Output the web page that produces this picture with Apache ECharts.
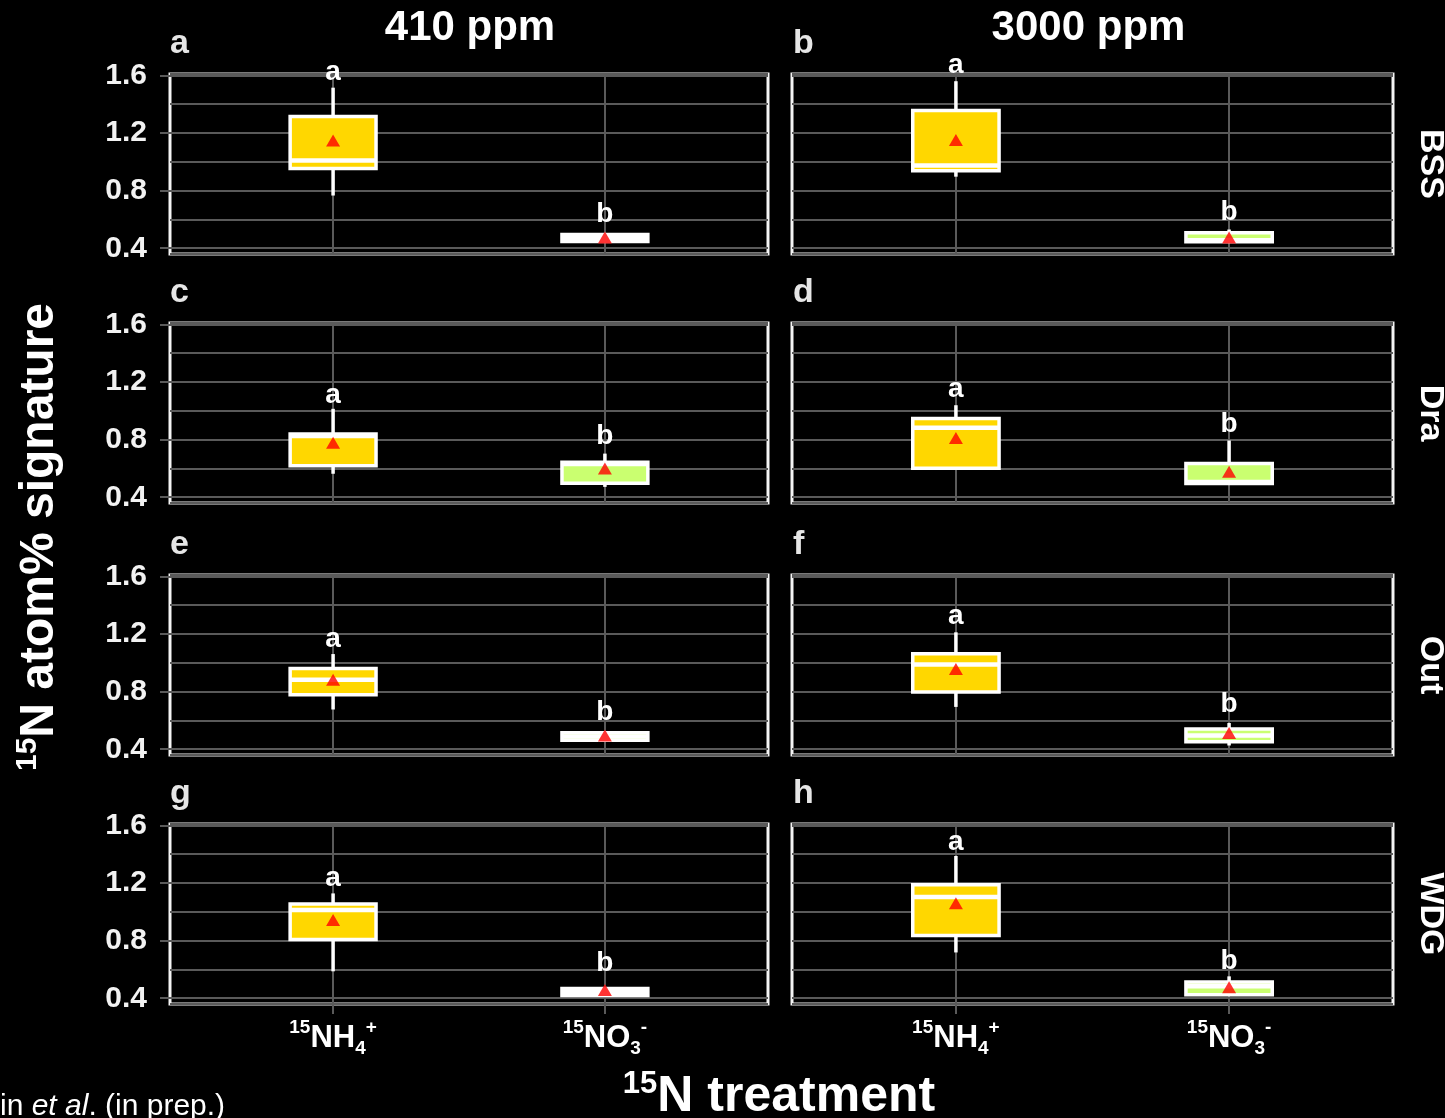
<!DOCTYPE html>
<html><head><meta charset="utf-8">
<script src="https://cdn.jsdelivr.net/npm/echarts@6/dist/echarts.min.js"></script>
<style>html,body{margin:0;padding:0;background:#000;} #c{width:1445px;height:1118px;}</style>
</head><body><div id="c"></div>
<script>
// ---------------- data ----------------
const sites = ['BSS', 'Dra', 'Out', 'WDG'];
const co2Levels = ['410 ppm', '3000 ppm'];
const panelTags = [['a', 'b'], ['c', 'd'], ['e', 'f'], ['g', 'h']];
const treatmentPos = [1, 2];
const treatmentLabels = ['{sup|15}{m|NH}{sub|4}{sup|+}', '{sup|15}{m|NO}{sub|3}{sup|-}'];
const groupLetters = ['a', 'b'];
const yTickLabels = [0.4, 0.8, 1.2, 1.6];

// [lower whisker, Q1, median, Q3, upper whisker] per site (BSS, Dra, Out, WDG)
const nh4Box410 = [
  [0.766, 0.954, 1.010, 1.315, 1.515],
  [0.563, 0.618, 0.825, 0.840, 1.014],
  [0.676, 0.778, 0.883, 0.960, 1.061],
  [0.587, 0.808, 1.013, 1.054, 1.128]
];
const no3Box410 = [
  [0.445, 0.447, 0.470, 0.495, 0.497],
  [0.472, 0.497, 0.630, 0.643, 0.703],
  [0.460, 0.462, 0.488, 0.514, 0.516],
  [0.417, 0.419, 0.443, 0.467, 0.470]
];
const nh4Box3000 = [
  [0.897, 0.938, 0.975, 1.356, 1.560],
  [0.590, 0.601, 0.882, 0.947, 1.039],
  [0.694, 0.797, 0.988, 1.063, 1.212],
  [0.718, 0.835, 1.103, 1.188, 1.388]
];
const no3Box3000 = [
  [0.440, 0.445, 0.455, 0.507, 0.530],
  [0.490, 0.495, 0.505, 0.634, 0.794],
  [0.426, 0.452, 0.496, 0.540, 0.582],
  [0.420, 0.425, 0.483, 0.513, 0.552]
];
// means (red triangles)
const nh4Mean410 = [1.148, 0.778, 0.883, 0.944];
const no3Mean410 = [0.474, 0.600, 0.496, 0.458];
const nh4Mean3000 = [1.152, 0.812, 0.958, 1.059];
const no3Mean3000 = [0.474, 0.577, 0.512, 0.476];
// y position of the significance letters
const nh4Letter410 = [1.623, 1.106, 1.166, 1.232];
const no3Letter410 = [0.639, 0.824, 0.659, 0.640];
const nh4Letter3000 = [1.669, 1.147, 1.320, 1.485];
const no3Letter3000 = [0.648, 0.905, 0.713, 0.656];

// ---------------- layout / style ----------------
const FONT = 'Liberation Sans, Arial, sans-serif';
const colLeft = [170, 792];
const colWidth = [598, 601];
const rowTop = [74, 323, 575, 824];
const rowHeight = 180;
const yMin = 0.36, yMax = 1.61;
const xMin = 0.4, xMax = 2.6;
const boxWidthUnits = 0.316;
const fillColors = ['#FFD700', '#CAFF70'];
const gridGray = '#5a5a5a';

const boxes = [[nh4Box410, no3Box410], [nh4Box3000, no3Box3000]];
const means = [[nh4Mean410, no3Mean410], [nh4Mean3000, no3Mean3000]];
const letterYs = [[nh4Letter410, no3Letter410], [nh4Letter3000, no3Letter3000]];

function renderBox(params, api) {
  const x = api.value(0);
  const lo = api.coord([x, api.value(1)]);
  const q1 = api.coord([x, api.value(2)]);
  const md = api.coord([x, api.value(3)]);
  const q3 = api.coord([x, api.value(4)]);
  const hi = api.coord([x, api.value(5)]);
  const hw = api.size([boxWidthUnits, 0])[0] / 2;
  const fill = fillColors[treatmentPos.indexOf(x)];
  return {
    type: 'group',
    children: [
      { type: 'line', shape: { x1: lo[0], y1: lo[1], x2: hi[0], y2: hi[1] }, style: { stroke: '#ffffff', lineWidth: 3.5 } },
      { type: 'rect', shape: { x: q3[0] - hw, y: q3[1], width: 2 * hw, height: q1[1] - q3[1] }, style: { fill: fill, stroke: '#ffffff', lineWidth: 3.5 } },
      { type: 'line', shape: { x1: md[0] - hw, y1: md[1], x2: md[0] + hw, y2: md[1] }, style: { stroke: '#ffffff', lineWidth: 4.5 } }
    ]
  };
}

function renderLetter(params, api) {
  const p = api.coord([api.value(0), api.value(1)]);
  return {
    type: 'text', x: p[0], y: p[1],
    style: {
      text: groupLetters[treatmentPos.indexOf(api.value(0))],
      fill: '#ffffff', fontSize: 28, fontWeight: 'bold', fontFamily: FONT,
      align: 'center', verticalAlign: 'middle'
    }
  };
}

const grids = [], xAxes = [], yAxes = [], series = [], graphics = [];

for (let r = 0; r < sites.length; r++) {
  for (let c = 0; c < co2Levels.length; c++) {
    const g = grids.length;
    grids.push({
      left: colLeft[c], top: rowTop[r], width: colWidth[c], height: rowHeight,
      show: true, borderColor: '#f4f4f4', borderWidth: 3, backgroundColor: 'transparent'
    });
    const bottomRow = r === sites.length - 1;
    xAxes.push({
      gridIndex: g, type: 'value', min: xMin, max: xMax,
      axisLine: { show: false },
      axisTick: { show: bottomRow, customValues: treatmentPos, length: 10, lineStyle: { color: gridGray, width: 2 } },
      axisLabel: {
        show: bottomRow, customValues: treatmentPos, margin: 14,
        formatter: v => treatmentLabels[treatmentPos.indexOf(v)],
        rich: {
          m: { fontSize: 31, fontWeight: 'bold', color: '#ffffff', fontFamily: FONT, lineHeight: 40 },
          sup: { fontSize: 19, fontWeight: 'bold', color: '#ffffff', fontFamily: FONT, verticalAlign: 'top', lineHeight: 20 },
          sub: { fontSize: 19, fontWeight: 'bold', color: '#ffffff', fontFamily: FONT, verticalAlign: 'bottom', lineHeight: 18 }
        }
      },
      splitLine: { show: true, lineStyle: { color: gridGray, width: 2 } }
    });
    // axis carrying the grid lines (every 0.2)
    yAxes.push({
      gridIndex: g, type: 'value', min: yMin, max: yMax, splitNumber: 6, position: 'left',
      axisLine: { show: false }, axisTick: { show: false }, axisLabel: { show: false },
      splitLine: { show: true, lineStyle: { color: gridGray, width: 2 } }
    });
    // axis carrying labels/ticks (every 0.4)
    yAxes.push({
      gridIndex: g, type: 'value', min: yMin, max: yMax, position: 'left', offset: 0,
      axisLine: { show: false },
      axisTick: { show: c === 0, customValues: yTickLabels, length: 10, lineStyle: { color: gridGray, width: 2 } },
      axisLabel: {
        show: c === 0, customValues: yTickLabels, margin: 23,
        formatter: v => v.toFixed(1),
        fontSize: 30, fontWeight: 'bold', color: '#f2f2f2', fontFamily: FONT
      },
      splitLine: { show: false }
    });
    const yIdx = 2 * g;
    series.push({
      type: 'custom', xAxisIndex: g, yAxisIndex: yIdx, z: 2, silent: true,
      renderItem: renderBox,
      encode: { x: 0, y: [1, 2, 3, 4, 5] },
      data: treatmentPos.map((p, t) => [p].concat(boxes[c][t][r]))
    });
    series.push({
      type: 'scatter', xAxisIndex: g, yAxisIndex: yIdx, z: 3, silent: true,
      symbol: 'triangle', symbolSize: [14, 12],
      itemStyle: { color: '#ff0000' },
      data: treatmentPos.map((p, t) => [p, means[c][t][r]])
    });
    series.push({
      type: 'custom', xAxisIndex: g, yAxisIndex: yIdx, z: 4, silent: true, clip: false,
      renderItem: renderLetter,
      encode: { x: 0, y: 1 },
      data: treatmentPos.map((p, t) => [p, letterYs[c][t][r]])
    });
    // panel tag
    graphics.push({
      type: 'text', x: colLeft[c] + (c === 0 ? 0 : 1), y: rowTop[r] - 30, silent: true,
      style: { text: panelTags[r][c], fill: '#e6e6e6', fontSize: 34, fontWeight: 'bold', fontFamily: FONT, align: 'left', verticalAlign: 'middle' }
    });
  }
  // strip label on the right
  graphics.push({
    type: 'text', x: 1430, y: rowTop[r] + rowHeight / 2, rotation: -Math.PI / 2, silent: true,
    style: { text: sites[r], fill: '#ffffff', fontSize: 34, fontWeight: 'bold', fontFamily: FONT, align: 'center', verticalAlign: 'middle' }
  });
}
// column headers
for (let c = 0; c < co2Levels.length; c++) {
  graphics.push({
    type: 'text', x: colLeft[c] + colWidth[c] / 2 - (c === 0 ? -1 : 4), y: 28, silent: true,
    style: { text: co2Levels[c], fill: '#ffffff', fontSize: 42, fontWeight: 'bold', fontFamily: FONT, align: 'center', verticalAlign: 'middle' }
  });
}
// y axis title
graphics.push({
  type: 'text', x: 40, y: 537, rotation: Math.PI / 2, silent: true,
  style: {
    text: '{sup|15}{m|N atom% signature}', align: 'center', verticalAlign: 'middle',
    rich: {
      m: { fontSize: 48, fontWeight: 'bold', fill: '#ffffff', fontFamily: FONT, lineHeight: 54 },
      sup: { fontSize: 30, fontWeight: 'bold', fill: '#ffffff', fontFamily: FONT, verticalAlign: 'top', lineHeight: 32 }
    }
  }
});
// x axis title
graphics.push({
  type: 'text', x: 779, y: 1097, silent: true,
  style: {
    text: '{sup|15}{m|N treatment}', align: 'center', verticalAlign: 'middle',
    rich: {
      m: { fontSize: 50, fontWeight: 'bold', fill: '#ffffff', fontFamily: FONT, lineHeight: 56 },
      sup: { fontSize: 31, fontWeight: 'bold', fill: '#ffffff', fontFamily: FONT, verticalAlign: 'top', lineHeight: 33 }
    }
  }
});
// source note
graphics.push({
  type: 'text', x: 0, y: 1107, silent: true,
  style: {
    text: '{n|in }{i|et al}{n|. (in prep.)}', align: 'left', verticalAlign: 'middle',
    rich: {
      n: { fontSize: 30, fill: '#ffffff', fontFamily: FONT },
      i: { fontSize: 30, fill: '#ffffff', fontFamily: FONT, fontStyle: 'italic' }
    }
  }
});

const chart = echarts.init(document.getElementById('c'), null, { renderer: 'canvas' });
chart.setOption({
  backgroundColor: '#000000',
  animation: false,
  grid: grids,
  xAxis: xAxes,
  yAxis: yAxes,
  series: series,
  graphic: graphics
});
</script></body></html>
